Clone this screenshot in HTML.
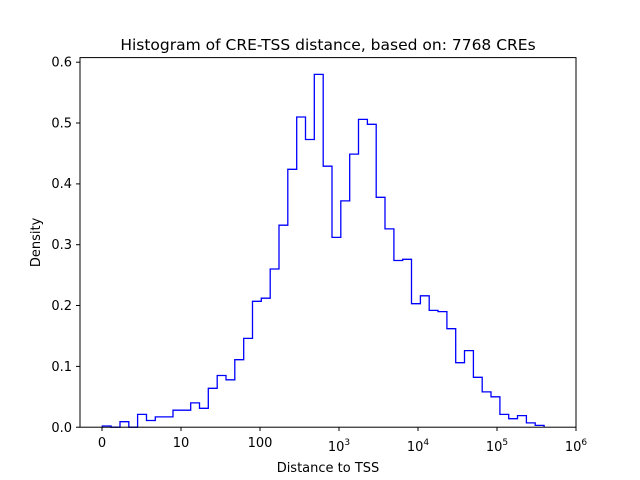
<!DOCTYPE html>
<html><head><meta charset="utf-8"><style>
body{margin:0;background:#fff}
svg{display:block;font-family:"DejaVu Sans","Liberation Sans",sans-serif}
</style></head><body>
<svg width="640" height="480" viewBox="0 0 640 480" xmlns="http://www.w3.org/2000/svg">
<rect width="640" height="480" fill="#fff"/>
<path fill="none" stroke="#0000ff" stroke-width="1.3" d="M102.3,427.2 V426.0 H111.1 V427.2 H120.0 V421.7 H128.8 V427.2 H137.6 V414.4 H146.5 V420.5 H155.3 V416.9 H173.0 V410.2 H190.7 V402.9 H199.5 V408.3 H208.3 V388.3 H217.2 V375.5 H226.0 V379.8 H234.8 V359.7 H243.7 V338.4 H252.5 V301.3 H261.3 V298.2 H270.2 V269.0 H279.0 V225.2 H287.8 V169.3 H296.7 V117.0 H305.5 V139.5 H314.3 V74.4 H323.2 V166.2 H332.0 V237.4 H340.8 V200.9 H349.7 V154.1 H358.5 V119.4 H367.4 V124.3 H376.2 V197.3 H385.0 V228.9 H393.9 V260.5 H402.7 V259.3 H411.5 V303.7 H420.4 V295.8 H429.2 V310.4 H438.0 V311.6 H446.9 V328.7 H455.7 V362.7 H464.5 V350.6 H473.4 V377.3 H482.2 V391.9 H491.0 V396.8 H499.9 V414.4 H508.7 V418.7 H517.5 V415.6 H526.4 V422.9 H535.2 V425.4 H544.1 V427.2"/>
<rect x="80" y="57.6" width="496" height="369.6" fill="none" stroke="#000" stroke-width="1"/>
<g stroke="#000" stroke-width="1">
<line x1="102" y1="427.2" x2="102" y2="431"/>
<line x1="181" y1="427.2" x2="181" y2="431"/>
<line x1="260" y1="427.2" x2="260" y2="431"/>
<line x1="339" y1="427.2" x2="339" y2="431"/>
<line x1="418" y1="427.2" x2="418" y2="431"/>
<line x1="497" y1="427.2" x2="497" y2="431"/>
<line x1="576" y1="427.2" x2="576" y2="431"/>
<line x1="76" y1="427.2" x2="80" y2="427.2"/>
<line x1="76" y1="366.4" x2="80" y2="366.4"/>
<line x1="76" y1="305.5" x2="80" y2="305.5"/>
<line x1="76" y1="244.7" x2="80" y2="244.7"/>
<line x1="76" y1="183.9" x2="80" y2="183.9"/>
<line x1="76" y1="123.0" x2="80" y2="123.0"/>
<line x1="76" y1="62.2" x2="80" y2="62.2"/>
</g>
<g font-size="13" text-anchor="end" fill="#000">
<text x="72" y="432">0.0</text>
<text x="72" y="371">0.1</text>
<text x="72" y="310">0.2</text>
<text x="72" y="249">0.3</text>
<text x="72" y="188">0.4</text>
<text x="72" y="127.5">0.5</text>
<text x="72" y="66.7">0.6</text>
</g>
<g font-size="13" text-anchor="middle" fill="#000">
<text x="102" y="447">0</text>
<text x="181" y="447">10</text>
<text x="260" y="447">100</text>
<text x="339" y="451">10<tspan font-size="9" dy="-6">3</tspan></text>
<text x="418" y="451">10<tspan font-size="9" dy="-6">4</tspan></text>
<text x="497" y="451">10<tspan font-size="9" dy="-6">5</tspan></text>
<text x="576" y="451">10<tspan font-size="9" dy="-6">6</tspan></text>
<text x="328" y="472">Distance to TSS</text>
<text x="328" y="50" font-size="15.5">Histogram of CRE-TSS distance, based on: 7768 CREs</text>
</g>
<text font-size="13" text-anchor="middle" transform="translate(40,242.4) rotate(-90)">Density</text>
</svg>
</body></html>
